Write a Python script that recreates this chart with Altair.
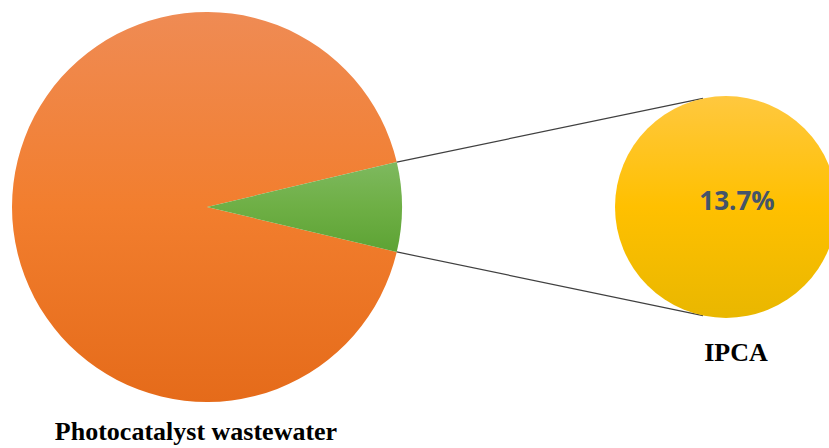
import math
import altair as alt
import pandas as pd

# ---- data ----
categories = ["IPCA", "Photocatalyst wastewater"]
values = [7.4, 92.6]
sub_labels = ["13.7%"]
names = ["Photocatalyst wastewater", "IPCA"]

W, H = 829, 448
CX, CY, R = 207, 207, 195          # main pie
SX, SY, SR = 726, 207, 111         # secondary circle

total = sum(values)
frac = values[0] / total
start = math.pi / 2 - frac * math.pi
df = pd.DataFrame({"category": categories, "value": values})

def grad(c0, c1, c2):
    return alt.LinearGradient(
        gradient="linear",
        stops=[alt.GradientStop(color=c0, offset=0),
               alt.GradientStop(color=c1, offset=0.5),
               alt.GradientStop(color=c2, offset=1)],
        x1=0, x2=0, y1=0, y2=1)

base = alt.Chart(df).transform_window(
    cum="sum(value)", sort=[alt.SortField("category", order="ascending")]
).transform_calculate(start="datum.cum - datum.value")

theta_scale = alt.Scale(domain=[0, total], range=[start, start + 2 * math.pi])

def slice_layer(cat, fill):
    return base.transform_filter(alt.datum.category == cat).mark_arc(
        color=fill, radius=R
    ).encode(
        theta=alt.Theta("start:Q", scale=theta_scale),
        theta2="cum:Q",
        x=alt.value(CX), y=alt.value(CY),
    )

orange = slice_layer("Photocatalyst wastewater", grad("#EF8B54", "#F27E2E", "#E56B1A"))
green = slice_layer("IPCA", grad("#7EB95F", "#6EAF45", "#5DA334"))

# secondary circle (IPCA breakdown)
sub_df = pd.DataFrame({"label": sub_labels})
sub = alt.Chart(sub_df).mark_arc(
    color=grad("#FFC83F", "#FFC000", "#E9B700"), radius=SR,
    theta=0, theta2=2 * math.pi
).encode(x=alt.value(SX), y=alt.value(SY))

sub_text = alt.Chart(sub_df).mark_text(
    font="Open Sans", fontWeight="bold", fontSize=26, color="#44546A"
).encode(text="label:N", x=alt.value(SX + 11), y=alt.value(SY - 5))

# connector lines from wedge edges to the secondary circle
half = frac * math.pi
px = CX + R * math.cos(half)
py_top = CY - R * math.sin(half)
py_bot = CY + R * math.sin(half)
qx = SX - 23
qdy = math.sqrt(SR ** 2 - 23 ** 2)
line_df = pd.DataFrame({"k": [0]})
line_top = alt.Chart(line_df).mark_rule(color="#404040", strokeWidth=1.2).encode(
    x=alt.value(px), y=alt.value(py_top), x2=alt.value(qx), y2=alt.value(SY - qdy))
line_bot = alt.Chart(line_df).mark_rule(color="#404040", strokeWidth=1.2).encode(
    x=alt.value(px), y=alt.value(py_bot), x2=alt.value(qx), y2=alt.value(SY + qdy))

name_df = pd.DataFrame({"name": names, "cx": [196, 736], "cy": [432, 353]})
name_text = alt.Chart(name_df).mark_text(
    font="Liberation Serif", fontWeight="bold", fontSize=26, color="#000000"
).encode(text="name:N", x=alt.X("cx:Q", scale=None), y=alt.Y("cy:Q", scale=None))

chart = alt.layer(orange, green, line_top, line_bot, sub, sub_text, name_text).properties(
    width=W, height=H, autosize=alt.AutoSizeParams(type="none"), padding=0
).configure_view(stroke=None)

chart.save("out.html", embed_options={"renderer": "svg", "actions": False})
